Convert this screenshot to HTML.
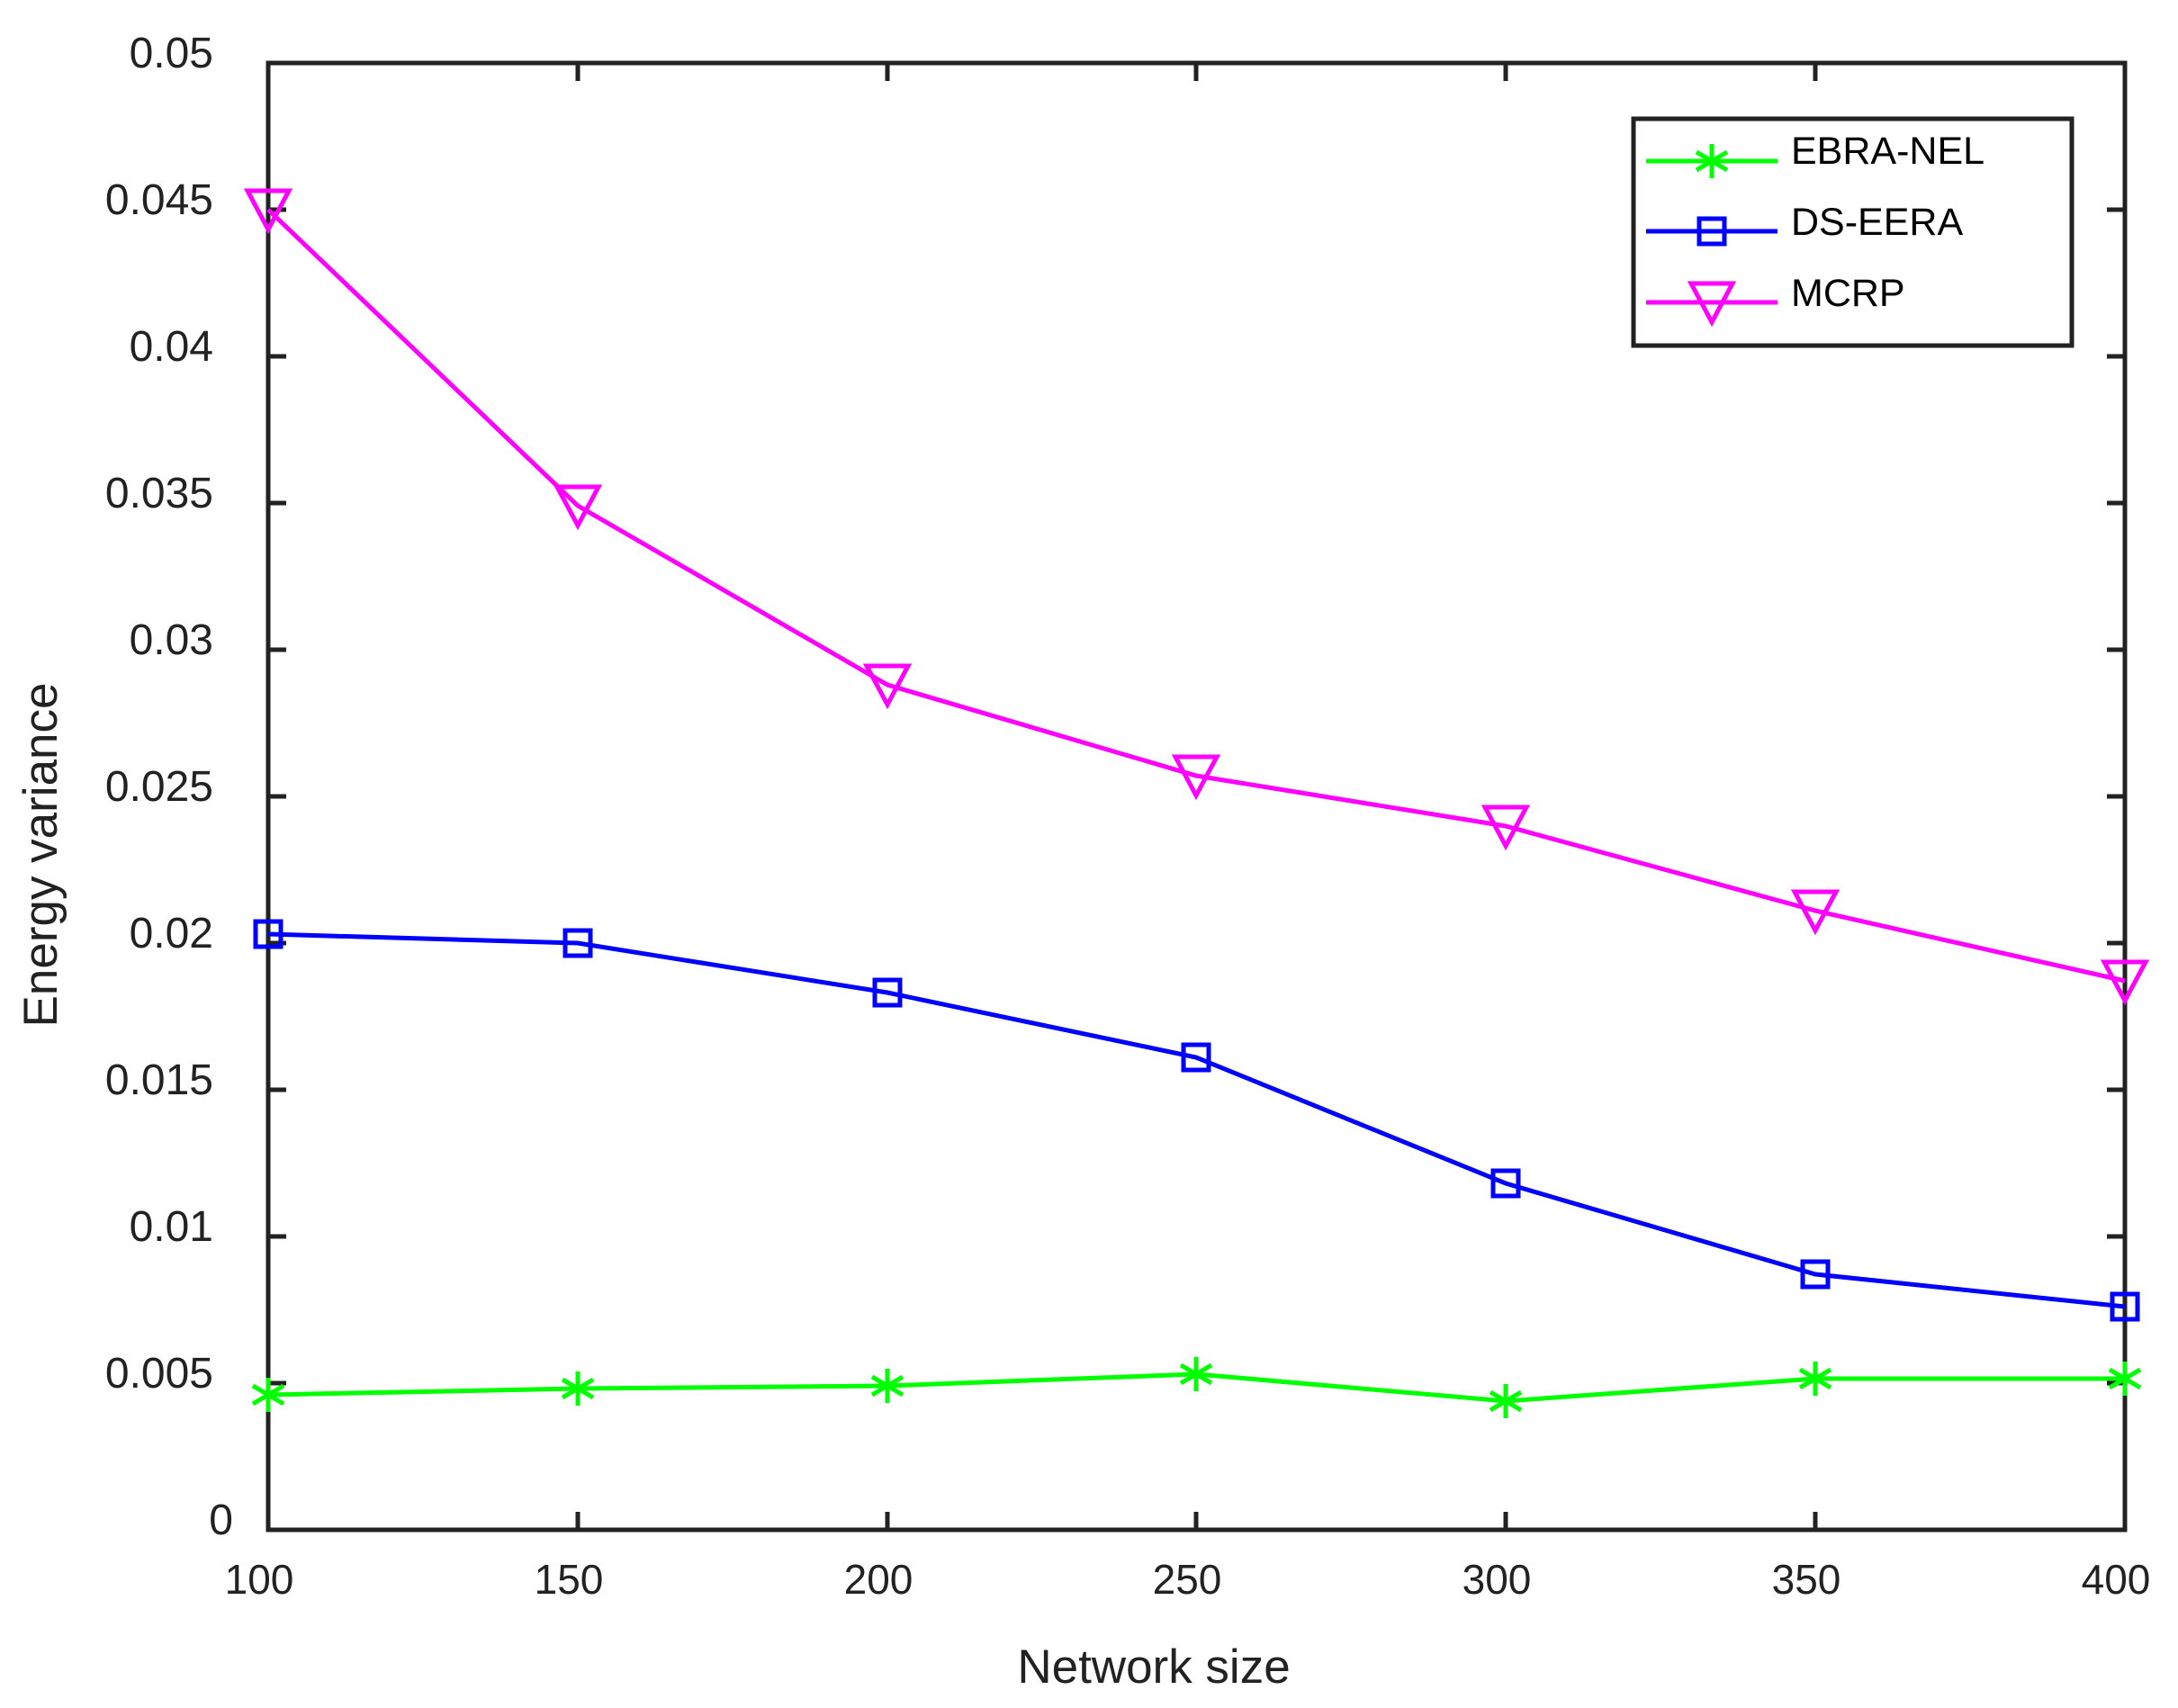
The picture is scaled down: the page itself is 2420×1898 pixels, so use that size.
<!DOCTYPE html>
<html><head><meta charset="utf-8"><style>html,body{margin:0;padding:0;background:#fff}</style></head>
<body>
<svg width="2420" height="1893" viewBox="0 0 2420 1893" xmlns="http://www.w3.org/2000/svg" font-family="Liberation Sans, Arial, sans-serif">
<rect width="2420" height="1893" fill="#fff"/>
<defs>
<g id="ast" stroke="#00ff00" stroke-width="5" fill="none"><line x1="0" y1="-19" x2="0" y2="19"/><line x1="-17" y1="-10" x2="17" y2="10"/><line x1="-17" y1="10" x2="17" y2="-10"/></g>
<rect id="sq" x="-14" y="-14" width="28" height="28" stroke="#0000ff" stroke-width="5" fill="none"/>
<polygon id="tri" points="-23,-21 23,-21 0,22" stroke="#ff00ff" stroke-width="5" fill="none"/>
</defs>
<g stroke="#222" stroke-width="5" fill="none">
<rect x="298" y="70" width="2063" height="1630"/>
<path d="M298,1537h20M298,1374h20M298,1211h20M298,1048h20M298,885h20M298,722h20M298,559h20M298,396h20M298,233h20
M2361,1537h-20M2361,1374h-20M2361,1211h-20M2361,1048h-20M2361,885h-20M2361,722h-20M2361,559h-20M2361,396h-20M2361,233h-20
M642,1700v-20M986,1700v-20M1329,1700v-20M1673,1700v-20M2017,1700v-20
M642,70v20M986,70v20M1329,70v20M1673,70v20M2017,70v20"/>
</g>
<g font-size="48" fill="#222" text-anchor="end">
<text x="237" y="75">0.05</text>
<text x="237" y="238">0.045</text>
<text x="237" y="401">0.04</text>
<text x="237" y="564">0.035</text>
<text x="237" y="727">0.03</text>
<text x="237" y="890">0.025</text>
<text x="237" y="1053">0.02</text>
<text x="237" y="1216">0.015</text>
<text x="237" y="1379">0.01</text>
<text x="237" y="1542">0.005</text>
<text x="259" y="1705">0</text>
</g>
<g font-size="46" fill="#222" text-anchor="middle">
<text x="288" y="1771">100</text>
<text x="632" y="1771">150</text>
<text x="976" y="1771">200</text>
<text x="1319" y="1771">250</text>
<text x="1663" y="1771">300</text>
<text x="2007" y="1771">350</text>
<text x="2351" y="1771">400</text>
</g>
<text x="1282" y="1870" font-size="53" fill="#222" text-anchor="middle">Network size</text>
<text transform="translate(63,950) rotate(-90)" font-size="53" fill="#222" text-anchor="middle">Energy variance</text>

<polyline fill="none" stroke="#ff00ff" stroke-width="5" points="298,233 642,562 986,761 1329,862 1673,918 2017,1012 2361,1090"/>
<polyline fill="none" stroke="#0000ff" stroke-width="5" points="298,1038 642,1048 986,1103 1329,1175 1673,1315 2017,1416 2361,1452"/>
<polyline fill="none" stroke="#00ff00" stroke-width="5" points="298,1550 642,1543 986,1540 1329,1527 1673,1557 2017,1532 2361,1532"/>
<use href="#tri" x="298" y="233"/><use href="#tri" x="642" y="562"/><use href="#tri" x="986" y="761"/><use href="#tri" x="1329" y="862"/><use href="#tri" x="1673" y="918"/><use href="#tri" x="2017" y="1012"/><use href="#tri" x="2361" y="1090"/>
<use href="#sq" x="298" y="1038"/><use href="#sq" x="642" y="1048"/><use href="#sq" x="986" y="1103"/><use href="#sq" x="1329" y="1175"/><use href="#sq" x="1673" y="1315"/><use href="#sq" x="2017" y="1416"/><use href="#sq" x="2361" y="1452"/>
<use href="#ast" x="298" y="1550"/><use href="#ast" x="642" y="1543"/><use href="#ast" x="986" y="1540"/><use href="#ast" x="1329" y="1527"/><use href="#ast" x="1673" y="1557"/><use href="#ast" x="2017" y="1532"/><use href="#ast" x="2361" y="1532"/>

<rect x="1815" y="132" width="487" height="252" fill="#fff" stroke="#222" stroke-width="5"/>
<line x1="1829" y1="179" x2="1975" y2="179" stroke="#00ff00" stroke-width="5"/>
<use href="#ast" x="1902" y="179"/>
<line x1="1829" y1="257" x2="1975" y2="257" stroke="#0000ff" stroke-width="5"/>
<use href="#sq" x="1902" y="257"/>
<line x1="1829" y1="336" x2="1975" y2="336" stroke="#ff00ff" stroke-width="5"/>
<use href="#tri" x="1902" y="336"/>
<g font-size="43" fill="#000">
<text x="1990" y="182">EBRA-NEL</text>
<text x="1990" y="261">DS-EERA</text>
<text x="1990" y="340">MCRP</text>
</g>
</svg>
</body></html>
